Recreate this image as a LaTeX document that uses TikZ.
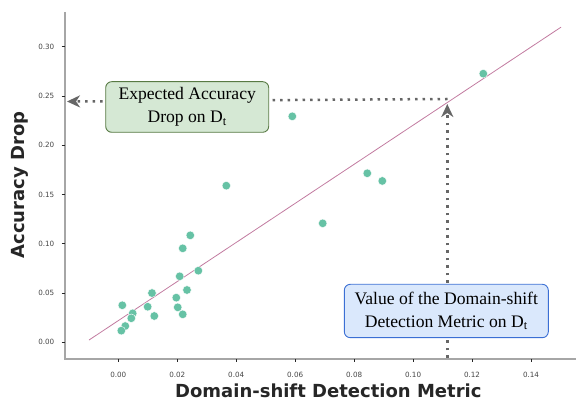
\documentclass[tikz,border=0pt]{standalone}
\usepackage{fontspec}
\setmainfont{Liberation Serif}
\newfontfamily\plotsans{DejaVu Sans}
\usetikzlibrary{arrows.meta}

\definecolor{pointgreen}{HTML}{66C2A5}
\definecolor{fitline}{HTML}{C27BA0}
\definecolor{spinegray}{HTML}{A6A6A6}
\definecolor{ticklabel}{HTML}{444444}
\definecolor{labeldark}{HTML}{262626}
\definecolor{guidegray}{HTML}{666666}
\definecolor{greenfill}{HTML}{D5E8D4}
\definecolor{greenedge}{HTML}{587A44}
\definecolor{bluefill}{HTML}{DAE8FC}
\definecolor{blueedge}{HTML}{3B6FD4}

\tikzset{
  spine/.style={draw=spinegray, line width=1.2pt},
  tickmark/.style={draw=labeldark, line width=0.8pt},
  ticktext/.style={font=\plotsans\fontsize{7.2}{8}\selectfont, text=ticklabel, inner sep=0pt},
  axistitle/.style={font=\plotsans\bfseries\fontsize{18}{20}\selectfont, text=labeldark, inner sep=0pt},
  datapoint/.style={fill=pointgreen, draw=white, line width=0.4pt},
  guide/.style={draw=guidegray, line width=2.5pt, dash pattern=on 2.5pt off 5pt,
    -{Stealth[length=13pt, width=12pt, inset=4pt]}},
  callout/.style={rounded corners=6pt, line width=0.9pt, align=center, inner sep=0pt,
    font=\fontsize{17.6}{22.5}\selectfont, text=black},
}

\begin{document}
\begin{tikzpicture}[x=1pt, y=1pt]
\useasboundingbox (0,0) rectangle (576,401);

% axes spines
\draw[spine] (65,389) -- (65,42) -- (576,42);

% y ticks and labels
\foreach \v/\t in {0/0.00, 0.05/0.05, 0.10/0.10, 0.15/0.15, 0.20/0.20, 0.25/0.25, 0.30/0.30} {
  \pgfmathsetmacro\yy{58.7+985*\v}
  \draw[tickmark] (61.5,\yy) -- (65,\yy);
  \node[ticktext, anchor=east] at (54.5,\yy) {\t};
}
% x ticks and labels
\foreach \v/\t in {0/0.00, 0.02/0.02, 0.04/0.04, 0.06/0.06, 0.08/0.08, 0.10/0.10, 0.12/0.12, 0.14/0.14} {
  \pgfmathsetmacro\xx{118.3+2948*\v}
  \draw[tickmark] (\xx,42) -- (\xx,38.5);
  \node[ticktext] at (\xx,26.3) {\t};
}

% axis titles
\node[axistitle, rotate=90] (ylab) at (20,216) {Accuracy Drop};
\node[axistitle, anchor=base] (xlab) at (328.3,3.2) {Domain-shift Detection Metric};

% data in axis units
\begin{scope}[shift={(118.3pt,58.7pt)}, x=2948pt, y=985pt]
  \draw[fitline, line width=0.8pt] (-0.00994,0.0023) -- (0.1502,0.320);
  \foreach \px/\py in {
    0.00136/0.0376, 0.00488/0.0294, 0.00441/0.0244, 0.00237/0.0165,
    0.00102/0.0118, 0.01143/0.0500, 0.00997/0.0361, 0.01221/0.0267,
    0.01967/0.0453, 0.02015/0.0355, 0.02185/0.0284, 0.02330/0.0531,
    0.02083/0.0670, 0.02714/0.0727, 0.02185/0.0954, 0.02442/0.1086,
    0.03663/0.1590, 0.05902/0.2294, 0.12381/0.2727, 0.08446/0.1716,
    0.08955/0.1638, 0.06934/0.1208} {
    \fill[datapoint] (\px,\py) circle[radius=4.3pt];
  }
\end{scope}

% guide lines to the fitted value
\coordinate (hstart) at (447.5,302);
\coordinate (hend) at (67,299.5);
\coordinate (vstart) at (447.3,43);
\coordinate (vend) at (447.3,297);
\draw[guide] (hstart) -- (hend);
\draw[guide] (vstart) -- (vend);

% callouts
\node[callout, fill=greenfill, draw=greenedge, minimum width=163pt, minimum height=50.6pt]
  (drop) at (187.2,294) {Expected Accuracy\\Drop on D\textsubscript{t}};
\node[callout, fill=bluefill, draw=blueedge, minimum width=204pt, minimum height=53.4pt]
  (metric) at (446.3,90) {Value of the Domain-shift\\Detection Metric on D\textsubscript{t}};
\end{tikzpicture}
\end{document}
